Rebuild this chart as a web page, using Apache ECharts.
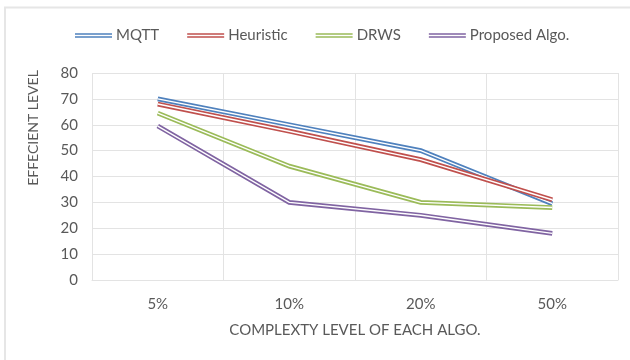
<!DOCTYPE html>
<html>
<head>
<meta charset="utf-8">
<script src="https://cdn.jsdelivr.net/npm/echarts@6/dist/echarts.min.js"></script>
<style>
  html, body { margin: 0; padding: 0; background: #ffffff; }
  #chart { width: 630px; height: 360px; }
</style>
</head>
<body>
<div id="chart"></div>
<script>
// Complexity levels on the x axis
const categories = ['5%', '10%', '20%', '50%'];

// Efficiency level per algorithm
const mqtt      = [70, 60, 50, 29.5];
const heuristic = [68, 57.5, 46.5, 31];
const drws      = [64.5, 44, 30, 28];
const proposed  = [59.5, 30, 25, 18];

const seriesNames  = ['MQTT', 'Heuristic', 'DRWS', 'Proposed Algo.'];
const seriesValues = [mqtt, heuristic, drws, proposed];
const seriesColors = ['#4F81BD', '#C0504D', '#9BBB59', '#8064A2'];

const textColor = '#595959';
const gridColor = '#e3e3e3';
const font = 'Lato, "Open Sans", sans-serif';

// Each line is drawn as a double stroke: a wide coloured line with a thin white core
const series = [];
seriesValues.forEach(function (values, i) {
  series.push({
    name: seriesNames[i],
    type: 'line',
    data: values,
    symbol: 'none',
    color: seriesColors[i],
    lineStyle: { width: 4.8, color: seriesColors[i], cap: 'butt', join: 'miter' },
    z: 2 + i * 2,
    silent: true
  });
  series.push({
    name: seriesNames[i] + ' core',
    type: 'line',
    data: values,
    symbol: 'none',
    color: '#ffffff',
    lineStyle: { width: 1.4, color: '#ffffff', cap: 'butt', join: 'miter' },
    z: 3 + i * 2,
    silent: true
  });
});

const chart = echarts.init(document.getElementById('chart'), null, { renderer: 'canvas' });
chart.setOption({
  backgroundColor: '#ffffff',
  animation: false,
  textStyle: { fontFamily: font },
  legend: {
    data: seriesNames,
    left: 70,
    top: 23,
    itemWidth: 37,
    itemHeight: 4.6,
    itemGap: 28,
    icon: 'path://M0,0H37V1.6H0ZM0,3H37V4.6H0Z',
    textStyle: { color: textColor, fontSize: 15, fontFamily: font, padding: [0, 0, 0, -1] }
  },
  grid: { left: 92, right: 12, top: 73, bottom: 80, containLabel: false },
  xAxis: {
    type: 'category',
    data: categories,
    boundaryGap: true,
    name: 'COMPLEXTY LEVEL OF EACH ALGO.',
    nameLocation: 'middle',
    nameGap: 43,
    nameTextStyle: { color: textColor, fontSize: 15, fontFamily: font },
    axisLine: { show: true, lineStyle: { color: gridColor, width: 1 } },
    axisTick: { show: false },
    splitLine: { show: true, lineStyle: { color: gridColor, width: 1 } },
    axisLabel: { color: textColor, fontSize: 15, margin: 17, fontFamily: font }
  },
  yAxis: {
    type: 'value',
    min: 0,
    max: 80,
    interval: 10,
    axisLine: { show: false },
    axisTick: { show: false },
    splitLine: { show: true, lineStyle: { color: gridColor, width: 1 } },
    axisLabel: { color: textColor, fontSize: 15, margin: 14, fontFamily: font }
  },
  graphic: [
    {
      type: 'rect',
      shape: { x: 5, y: 7.5, width: 640, height: 370 },
      style: { fill: 'none', stroke: '#e6e6e6', lineWidth: 2 },
      silent: true
    },
    {
      type: 'text',
      x: 33,
      y: 128,
      rotation: Math.PI / 2,
      style: {
        text: 'EFFECIENT LEVEL',
        fill: textColor,
        font: '14px ' + font,
        textAlign: 'center',
        textVerticalAlign: 'middle'
      }
    }
  ],
  series: series
});
</script>
</body>
</html>
